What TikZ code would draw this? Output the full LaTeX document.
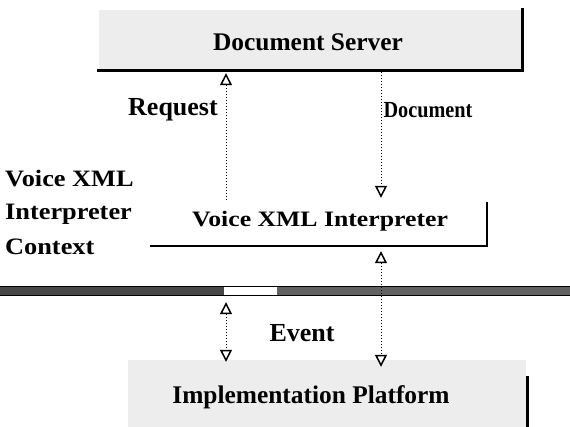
\documentclass[tikz,border=0pt]{standalone}
\usepackage{fontspec}
\usepackage{graphicx}
\setmainfont{Liberation Serif}
\usetikzlibrary{arrows.meta}
\newcommand\widetext[2]{\scalebox{#1}[1]{#2}}
\begin{document}
\begin{tikzpicture}[x=1pt,y=-1pt,
  shadowline/.style={line width=3pt,line cap=rect},
  panelfill/.style={fill=black!7},
  opentip/.tip={Triangle[open,length=12pt,width=12pt,line width=1.5pt]},
  flow/.style={dotted,line width=1pt,opentip-opentip},
  flowdown/.style={dotted,line width=1pt,-opentip},
  boxtitle/.style={font=\fontsize{25.4}{30}\selectfont\bfseries,inner sep=0pt},
  sidelabel/.style={font=\fontsize{23.5}{28}\selectfont\bfseries,inner sep=0pt,anchor=base west},
  flowlabel/.style={inner sep=0pt}]
\useasboundingbox (0,0) rectangle (570,427);

% document server panel
\node[panelfill,minimum width=423pt,minimum height=60pt,inner sep=0pt] (server) at (310.5,40) {};
\node[boxtitle] (servertext) at (308,42) {Document Server};
\draw[shadowline] (server.north east) -- (server.south east) -- (server.south west);

% interpreter box
\node[minimum width=337pt,minimum height=44pt,inner sep=0pt] (vxi) at (318.5,224) {};
\node[font=\fontsize{22}{26}\selectfont\bfseries,inner sep=0pt] (vxitext) at (320,221) {\widetext{1.17}{Voice XML Interpreter}};
\draw[line width=2.5pt] (vxi.north east) -- (vxi.south east) -- (vxi.south west);

% separator bar
\node[minimum width=570pt,minimum height=8pt,inner sep=0pt] (bar) at (285,291) {};
\fill[black!72] (bar.north west) rectangle (224,295);
\fill[black!62] (277,287) rectangle (bar.south east);
\draw[line width=0.8pt] (bar.north west) rectangle (bar.south east);

% implementation platform panel
\fill[panelfill] (128,360) rectangle (526,427);
\node[minimum width=399pt,minimum height=74pt,inner sep=0pt] (platform) at (327.5,397) {};
\node[boxtitle] (platformtext) at (311,397) {Implementation Platform};
\draw[shadowline] (527,377) -- (527,427);

% context label
\node[sidelabel] (ctxa) at (5,187) {\widetext{1.12}{Voice XML}};
\node[sidelabel] (ctxb) at (5,220) {\widetext{1.12}{Interpreter}};
\node[sidelabel] (ctxc) at (5,255) {\widetext{1.12}{Context}};

% columns of the connectors
\coordinate (colL) at (226,0);
\coordinate (colR) at (381,0);

% connectors
\draw[flowdown,shorten <=2pt,shorten >=3pt] (vxi.north -| colL) -- (server.south -| colL);
\draw[flowdown,shorten <=2pt,shorten >=4pt] (server.south -| colR) -- (vxi.north -| colR);
\draw[flow,shorten <=5pt,shorten >=-7pt] (vxi.south -| colR) -- (platform.north -| colR);
\draw[flow,shorten <=7pt,shorten >=-2pt] (bar.south -| colL) -- (platform.north -| colL);

% connector labels
\node[flowlabel,font=\fontsize{26}{30}\selectfont\bfseries] (request) at (173,110) {Request};
\node[flowlabel,font=\fontsize{23}{28}\selectfont\bfseries] (document) at (428,110) {\widetext{0.88}{Document}};
\node[flowlabel,font=\fontsize{26}{30}\selectfont\bfseries] (event) at (302,333) {Event};
\end{tikzpicture}
\end{document}
